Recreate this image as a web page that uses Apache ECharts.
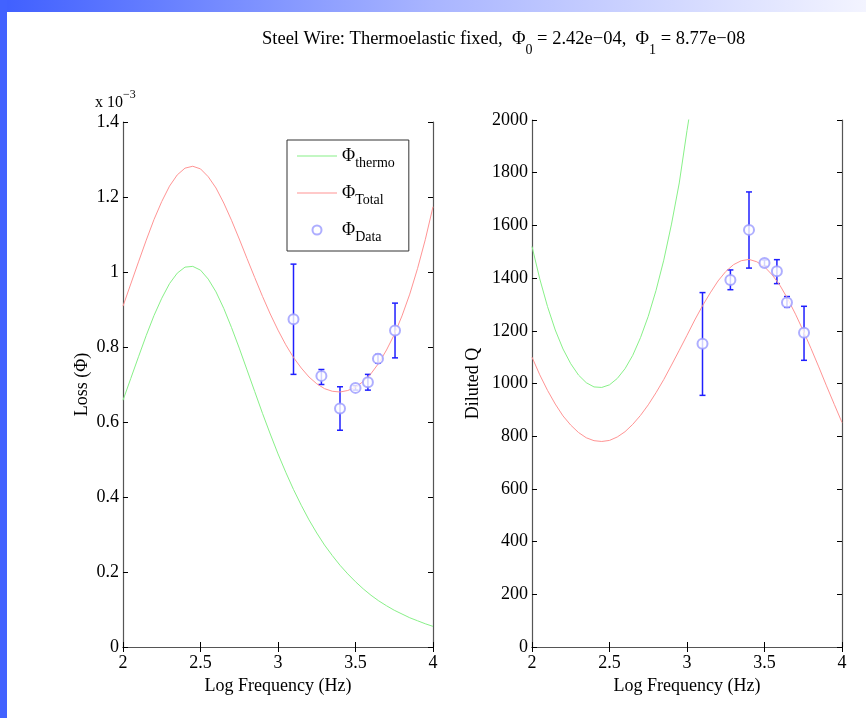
<!DOCTYPE html>
<html>
<head>
<meta charset="utf-8">
<script src="https://cdn.jsdelivr.net/npm/echarts@6/dist/echarts.min.js"></script>
<style>
  html, body { margin: 0; padding: 0; background: #fff; }
  #main { width: 866px; height: 718px; }
</style>
</head>
<body>
<div id="main"></div>
<script>
// log frequency grid the fitted curves are read on
const logF = [2.00, 2.05, 2.10, 2.15, 2.20, 2.25, 2.30, 2.35, 2.40, 2.45,
  2.50, 2.55, 2.60, 2.65, 2.70, 2.75, 2.80, 2.85, 2.90, 2.95,
  3.00, 3.05, 3.10, 3.15, 3.20, 3.25, 3.30, 3.35, 3.40, 3.45,
  3.50, 3.55, 3.60, 3.65, 3.70, 3.75, 3.80, 3.85, 3.90, 3.95, 4.00];

// loss curves, in units of 1e-3
const thermoLoss = [0.658, 0.716, 0.774, 0.831, 0.884, 0.930, 0.969, 0.997, 1.013, 1.015,
  1.005, 0.981, 0.947, 0.903, 0.852, 0.797, 0.739, 0.681, 0.623, 0.568,
  0.515, 0.466, 0.420, 0.378, 0.339, 0.304, 0.272, 0.244, 0.218, 0.195,
  0.174, 0.155, 0.138, 0.123, 0.110, 0.098, 0.088, 0.078, 0.070, 0.062, 0.055];
const totalLoss = [0.909, 0.968, 1.027, 1.085, 1.140, 1.188, 1.229, 1.259, 1.277, 1.282,
  1.275, 1.254, 1.224, 1.184, 1.138, 1.088, 1.036, 0.985, 0.935, 0.888,
  0.845, 0.806, 0.772, 0.744, 0.720, 0.702, 0.689, 0.682, 0.680, 0.684,
  0.693, 0.708, 0.729, 0.757, 0.792, 0.833, 0.883, 0.941, 1.009, 1.086, 1.174];

// diluted Q curves (green one leaves the plot above 2000 near 3.0)
const thermoQ = [1520, 1397, 1292, 1203, 1131, 1075, 1032, 1003, 987, 985,
  995, 1019, 1056, 1107, 1174, 1255, 1353, 1468, 1605, 1761,
  1960, 2146, 2381];
const totalQ = [1100, 1033, 974, 922, 877, 842, 814, 794, 783, 780,
  784, 797, 817, 845, 879, 919, 965, 1015, 1070, 1126,
  1183, 1241, 1295, 1344, 1389, 1425, 1451, 1466, 1471, 1462,
  1443, 1412, 1372, 1321, 1263, 1200, 1133, 1063, 991, 921, 852];

// measured points
const dataLogF = [3.10, 3.28, 3.40, 3.50, 3.58, 3.645, 3.755];
const dataLoss = [0.874, 0.723, 0.636, 0.691, 0.706, 0.769, 0.844];
const dataLossLo = [0.727, 0.700, 0.578, 0.685, 0.685, 0.757, 0.771];
const dataLossHi = [1.021, 0.740, 0.694, 0.697, 0.727, 0.780, 0.917];
const dataQ = [1151, 1393, 1583, 1457, 1426, 1307, 1193];
const dataQLo = [955, 1356, 1438, 1445, 1379, 1289, 1088];
const dataQHi = [1345, 1431, 1727, 1469, 1470, 1330, 1293];

const legendNames = ['thermo', 'Total', 'Data'];

const serif = 'Liberation Serif';
const green = '#88f088';
const red = '#ff9494';
const ringColor = '#9a9aff';
const barColor = '#1f1fff';
const lineIcon = 'path://M0,0L40,0L40,1L0,1Z';

const pairs = (xs, ys) => ys.map((y, i) => [xs[i], y]);
const triples = (xs, lo, hi) => xs.map((x, i) => [x, lo[i], hi[i]]);

function errBar(params, api) {
  const x = api.value(0);
  const lo = api.coord([x, api.value(1)]);
  const hi = api.coord([x, api.value(2)]);
  const w = 3;
  const style = { stroke: barColor, lineWidth: 1.5 };
  return {
    type: 'group',
    children: [
      { type: 'line', shape: { x1: lo[0], y1: lo[1], x2: hi[0], y2: hi[1] }, style },
      { type: 'line', shape: { x1: lo[0] - w, y1: lo[1], x2: lo[0] + w, y2: lo[1] }, style },
      { type: 'line', shape: { x1: hi[0] - w, y1: hi[1], x2: hi[0] + w, y2: hi[1] }, style }
    ]
  };
}

const axisLine = { lineStyle: { color: '#555', width: 1.2 } };
const tick = { inside: true, length: 5, lineStyle: { color: '#000' } };
const tickLabel = { fontFamily: serif, fontSize: 18, color: '#000', formatter: v => String(v) };

function makeX(gridIndex) {
  return [{
    type: 'value', gridIndex, min: 2, max: 4, interval: 0.5,
    axisLine, axisTick: tick, splitLine: { show: false },
    axisLabel: Object.assign({ margin: 7 }, tickLabel),
    name: 'Log Frequency (Hz)', nameLocation: 'middle', nameGap: 28,
    nameTextStyle: { fontFamily: serif, fontSize: 18, color: '#000' }
  }, {
    type: 'value', gridIndex, position: 'top', min: 2, max: 4, interval: 0.5,
    axisLine, axisTick: tick, splitLine: { show: false }, axisLabel: { show: false }
  }];
}

function makeY(gridIndex, max, interval, name, gap) {
  return [{
    type: 'value', gridIndex, min: 0, max, interval,
    axisLine: Object.assign({ show: true }, axisLine), axisTick: Object.assign({ show: true }, tick),
    splitLine: { show: false },
    axisLabel: Object.assign({ margin: 4 }, tickLabel),
    name, nameLocation: 'middle', nameGap: gap,
    nameTextStyle: { fontFamily: serif, fontSize: 18, color: '#000' }
  }, {
    type: 'value', gridIndex, position: 'right', min: 0, max, interval,
    axisLine: Object.assign({ show: true }, axisLine), axisTick: Object.assign({ show: true }, tick),
    splitLine: { show: false }, axisLabel: { show: false }
  }];
}

const chart = echarts.init(document.getElementById('main'));

chart.setOption({
  animation: false,
  backgroundColor: '#fff',
  title: {
    left: 262, top: 30, padding: 0,
    text: '{a|Steel Wire: Thermoelastic fixed,  Φ}{s|0}{a| = 2.42e−04,  Φ}{s|1}{a| = 8.77e−08}',
    textStyle: {
      fontWeight: 'normal',
      rich: {
        a: { fontFamily: serif, fontSize: 18.5, fontWeight: 'normal', color: '#000', lineHeight: 22, verticalAlign: 'top' },
        s: { fontFamily: serif, fontSize: 14, fontWeight: 'normal', color: '#000', lineHeight: 16, padding: [13, 0, 0, 0], verticalAlign: 'top' }
      }
    }
  },
  legend: {
    left: 287, top: 140, orient: 'vertical',
    data: [
      { name: legendNames[0], icon: lineIcon },
      { name: legendNames[1], icon: lineIcon },
      { name: legendNames[2], icon: 'emptyCircle' }
    ],
    itemWidth: 40, itemHeight: 9, itemGap: 14,
    padding: [7, 14, 7, 10],
    borderColor: '#333', borderWidth: 1, backgroundColor: '#fff',
    formatter: name => '{p|Φ}{s|' + name + '}',
    textStyle: {
      rich: {
        p: { fontFamily: serif, fontSize: 18, color: '#000', lineHeight: 18, verticalAlign: 'top' },
        s: { fontFamily: serif, fontSize: 14, color: '#000', lineHeight: 14, padding: [9, 0, 0, 0], verticalAlign: 'top' }
      }
    }
  },
  graphic: [
    {
      type: 'rect', z: -10, silent: true,
      shape: { x: 0, y: 0, width: 866, height: 12 },
      style: {
        fill: new echarts.graphic.LinearGradient(0, 0, 1, 0, [
          { offset: 0, color: '#3f5fff' },
          { offset: 0.5, color: '#a9b5ff' },
          { offset: 1, color: '#f3f4ff' }
        ])
      }
    },
    {
      type: 'rect', z: -9, silent: true,
      shape: { x: 0, y: 0, width: 7, height: 718 },
      style: { fill: '#4262ff' }
    },
    {
      type: 'text', left: 95, top: 89, silent: true,
      style: {
        text: '{a|x 10}{s|−3}',
        rich: {
          a: { fontFamily: serif, fontSize: 16, color: '#000', lineHeight: 18, padding: [6, 0, 0, 0], verticalAlign: 'top' },
          s: { fontFamily: serif, fontSize: 12, color: '#000', lineHeight: 14, verticalAlign: 'top' }
        }
      }
    }
  ],
  grid: [
    { left: 123, top: 122, width: 310, height: 525 },
    { left: 532, top: 120, width: 310, height: 527 }
  ],
  xAxis: makeX(0).concat(makeX(1)),
  yAxis: makeY(0, 1.4, 0.2, 'Loss (Φ)', 32).concat(makeY(1, 2000, 200, 'Diluted Q', 50)),
  series: [
    {
      name: 'thermo', type: 'line', xAxisIndex: 0, yAxisIndex: 0,
      data: pairs(logF, thermoLoss), showSymbol: false, symbol: 'none',
      lineStyle: { color: green, width: 1 }, itemStyle: { color: green }
    },
    {
      name: 'Total', type: 'line', xAxisIndex: 0, yAxisIndex: 0,
      data: pairs(logF, totalLoss), showSymbol: false, symbol: 'none',
      lineStyle: { color: red, width: 1 }, itemStyle: { color: red }
    },
    {
      name: 'lossErr', type: 'custom', xAxisIndex: 0, yAxisIndex: 0,
      data: triples(dataLogF, dataLossLo, dataLossHi),
      encode: { x: 0, y: [1, 2] }, renderItem: errBar, z: 3
    },
    {
      name: 'Data', type: 'scatter', xAxisIndex: 0, yAxisIndex: 0,
      data: pairs(dataLogF, dataLoss), symbol: 'emptyCircle', symbolSize: 10,
      itemStyle: { color: ringColor, borderColor: ringColor, borderWidth: 1 }, z: 4
    },
    {
      name: 'thermoQ', type: 'line', xAxisIndex: 2, yAxisIndex: 2,
      data: pairs(logF, thermoQ), showSymbol: false, symbol: 'none', clip: true,
      lineStyle: { color: green, width: 1 }
    },
    {
      name: 'TotalQ', type: 'line', xAxisIndex: 2, yAxisIndex: 2,
      data: pairs(logF, totalQ), showSymbol: false, symbol: 'none',
      lineStyle: { color: red, width: 1 }
    },
    {
      name: 'qErr', type: 'custom', xAxisIndex: 2, yAxisIndex: 2,
      data: triples(dataLogF, dataQLo, dataQHi),
      encode: { x: 0, y: [1, 2] }, renderItem: errBar, z: 3
    },
    {
      name: 'DataQ', type: 'scatter', xAxisIndex: 2, yAxisIndex: 2,
      data: pairs(dataLogF, dataQ), symbol: 'emptyCircle', symbolSize: 10,
      itemStyle: { color: ringColor, borderColor: ringColor, borderWidth: 1 }, z: 4
    }
  ]
});
</script>
</body>
</html>
